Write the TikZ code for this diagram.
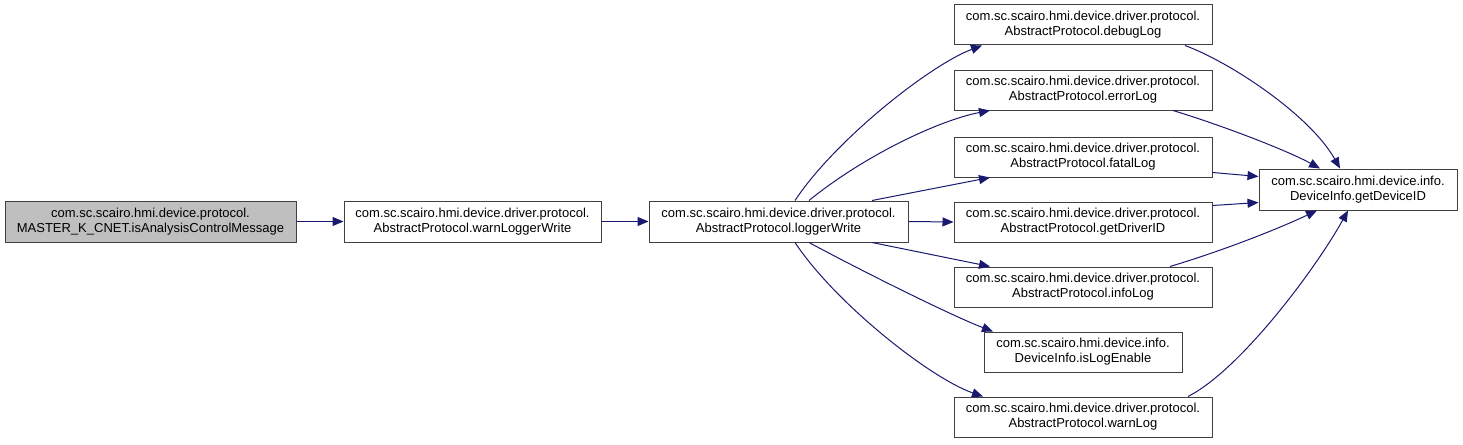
\documentclass[tikz,border=0pt]{standalone}
\usepackage{fontspec}
\setmainfont{Liberation Sans}
\usetikzlibrary{arrows.meta}
\definecolor{edgecol}{HTML}{191970}
\definecolor{boxline}{HTML}{404040}
\definecolor{rootfill}{HTML}{BFBFBF}
\tikzset{
  fbox/.style={draw=boxline, line width=1pt, fill=white, align=center, inner sep=0pt,
    font=\fontsize{13}{15}\selectfont},
  rootbox/.style={fbox, fill=rootfill},
  callarrow/.style={draw=edgecol, line width=1pt, -{Triangle[length=11pt,width=9pt]}}
}
\newcommand{\bx}[7]{\node[#1, minimum width=#4pt-#2pt, minimum height=#5pt-#3pt] (#6) at ({(#2+#4)/2},{(#3+#5)/2}) {#7};}
\begin{document}
\begin{tikzpicture}[x=1pt,y=-1pt]
\useasboundingbox (0,0) rectangle (1463,444);
\bx{rootbox}{5}{201}{296}{242}{root}{com.sc.scairo.hmi.device.protocol.\\MASTER\_K\_CNET.isAnalysisControlMessage}
\bx{fbox}{344}{201}{601}{242}{wlw}{com.sc.scairo.hmi.device.driver.protocol.\\AbstractProtocol.warnLoggerWrite}
\bx{fbox}{649}{201}{908}{242}{lw}{com.sc.scairo.hmi.device.driver.protocol.\\AbstractProtocol.loggerWrite}
\bx{fbox}{954}{5}{1212}{45}{dbg}{com.sc.scairo.hmi.device.driver.protocol.\\AbstractProtocol.debugLog}
\bx{fbox}{954}{70}{1212}{110}{err}{com.sc.scairo.hmi.device.driver.protocol.\\AbstractProtocol.errorLog}
\bx{fbox}{954}{137}{1212}{177}{fat}{com.sc.scairo.hmi.device.driver.protocol.\\AbstractProtocol.fatalLog}
\bx{fbox}{954}{202}{1212}{242}{gdr}{com.sc.scairo.hmi.device.driver.protocol.\\AbstractProtocol.getDriverID}
\bx{fbox}{954}{267}{1212}{307}{inf}{com.sc.scairo.hmi.device.driver.protocol.\\AbstractProtocol.infoLog}
\bx{fbox}{984}{332}{1182}{372}{ile}{com.sc.scairo.hmi.device.info.\\DeviceInfo.isLogEnable}
\bx{fbox}{954}{397}{1212}{437}{wl}{com.sc.scairo.hmi.device.driver.protocol.\\AbstractProtocol.warnLog}
\bx{fbox}{1259}{169}{1457}{210}{gdi}{com.sc.scairo.hmi.device.info.\\DeviceInfo.getDeviceID}

\draw[callarrow] (root.east) -- (wlw.west);
\draw[callarrow] (wlw.east) -- (lw.west);
\draw[callarrow] (lw.east) -- (gdr.west);
% loggerWrite (center x 778.5) to targets (center x 1083)
\draw[callarrow] ([xshift=16.5pt]lw.north) .. controls (835,140) and (930,65) .. ([xshift=-101pt]dbg.south);
\draw[callarrow] ([xshift=30.5pt]lw.north) .. controls (865,155) and (940,120) .. ([xshift=-93pt]err.south);
\draw[callarrow] ([xshift=93.5pt]lw.north) -- ([xshift=-93pt]fat.south);
\draw[callarrow] ([xshift=93.5pt]lw.south) -- ([xshift=-93pt]inf.north);
\draw[callarrow] ([xshift=30.5pt]lw.south) .. controls (860,270) and (950,315) .. ([xshift=-90pt]ile.north);
\draw[callarrow] ([xshift=16.5pt]lw.south) .. controls (835,303) and (930,378) .. ([xshift=-100pt]wl.north);
% to getDeviceID (center x 1358)
\draw[callarrow] ([xshift=102pt]dbg.south) .. controls (1230,62) and (1310,115) .. ([xshift=-18pt]gdi.north);
\draw[callarrow] ([xshift=90pt]err.south) .. controls (1230,128) and (1290,152) .. ([xshift=-38pt]gdi.north);
\draw[callarrow] ([yshift=5pt]fat.south east) -- ([yshift=-8pt]gdi.north west);
\draw[callarrow] ([yshift=-4pt]gdr.north east) -- ([yshift=8pt]gdi.south west);
\draw[callarrow] ([xshift=87pt]inf.north) .. controls (1225,250) and (1280,228) .. ([xshift=-41pt]gdi.south);
\draw[callarrow] ([xshift=105pt]wl.north) .. controls (1240,370) and (1315,270) .. ([xshift=-10pt]gdi.south);
\end{tikzpicture}
\end{document}
